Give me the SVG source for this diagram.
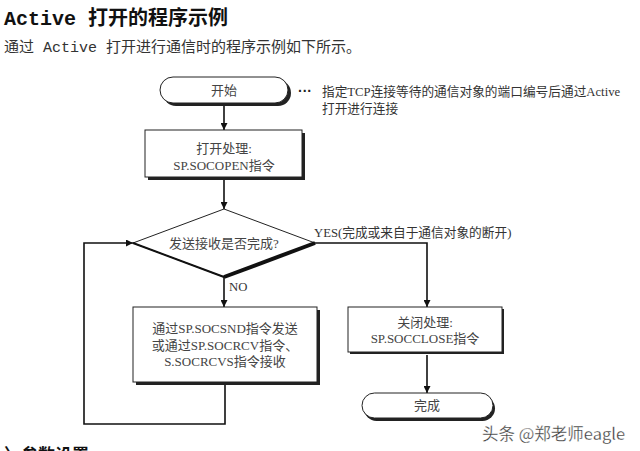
<svg xmlns="http://www.w3.org/2000/svg" width="640" height="451" viewBox="0 0 640 451">
<style>
.t{font-family:"Liberation Serif","Noto Sans CJK SC",serif;font-size:13px;fill:#444;text-anchor:middle}
.n{font-family:"Liberation Serif","Noto Sans CJK SC",serif;font-size:12.7px;fill:#333}
.box{fill:#fff;stroke:#222;stroke-width:1}
.sh{fill:#222}
.ln{fill:none;stroke:#111;stroke-width:1.6}
</style>
<defs>
<marker id="ah" viewBox="0 0 10 10" refX="10" refY="5" markerWidth="7" markerHeight="7" markerUnits="userSpaceOnUse" orient="auto"><path d="M0,0 L10,5 L0,10 z" fill="#111"/></marker>
</defs>
<rect width="640" height="451" fill="#fff"/>
<text x="4" y="25" font-family="Liberation Mono,'Noto Sans CJK SC',monospace" font-size="20" font-weight="bold" fill="#111">Active 打开的程序示例</text>
<text x="4" y="52" font-family="Liberation Mono,'Noto Sans CJK SC',monospace" font-size="15" fill="#333">通过 Active 打开进行通信时的程序示例如下所示。</text>
<text x="4" y="461" font-family="'Noto Sans CJK SC',sans-serif" font-size="17" font-weight="bold" fill="#111">〉参数设置</text>

<g id="connectors">
<line class="ln" x1="224" y1="105" x2="224" y2="130" marker-end="url(#ah)"/>
<line class="ln" x1="224" y1="180" x2="224" y2="209" marker-end="url(#ah)"/>
<line class="ln" x1="224" y1="277" x2="224" y2="307" marker-end="url(#ah)"/>
<polyline class="ln" points="315,243 427,243 427,307" marker-end="url(#ah)"/>
<line class="ln" x1="427" y1="355" x2="427" y2="393" marker-end="url(#ah)"/>
<polyline class="ln" points="225,385 225,424 84,424 84,243 133,243" marker-end="url(#ah)"/>
</g>

<g id="start">
<rect class="sh" x="163" y="80" width="128" height="26" rx="13"/>
<rect class="box" x="160" y="77" width="128" height="26" rx="13"/>
<text class="t" x="224" y="95">开始</text>
</g>
<g id="note">
<text x="298" y="96" font-family="'Liberation Sans',sans-serif" font-size="14" font-weight="bold" fill="#222">···</text>
<text class="n" x="322" y="96">指定TCP连接等待的通信对象的端口编号后通过Active</text>
<text class="n" x="322" y="113">打开进行连接</text>
</g>
<g id="open">
<rect class="sh" x="148" y="133" width="157" height="47"/>
<rect class="box" x="145" y="130" width="157" height="47"/>
<text class="t" x="224" y="153">打开处理:</text>
<text class="t" x="224" y="170">SP.SOCOPEN指令</text>
</g>
<g id="decision">
<polygon class="box" points="224,209 315,243 224,277 133,243"/>
<line x1="224" y1="277" x2="315" y2="243" stroke="#111" stroke-width="4"/>
<line x1="133" y1="243" x2="224" y2="277" stroke="#111" stroke-width="2"/>
<text class="t" x="224" y="248">发送接收是否完成?</text>
<text class="n" x="229" y="291">NO</text>
<text class="n" x="314" y="237">YES(完成或来自于通信对象的断开)</text>
</g>
<g id="sendrecv">
<rect class="sh" x="136" y="310" width="184" height="75"/>
<rect class="box" x="133" y="307" width="184" height="75"/>
<text class="t" x="225" y="333">通过SP.SOCSND指令发送</text>
<text class="t" x="225" y="350">或通过SP.SOCRCV指令、</text>
<text class="t" x="225" y="366">S.SOCRCVS指令接收</text>
</g>
<g id="close">
<rect class="sh" x="350" y="309" width="154" height="45"/>
<rect class="box" x="348" y="307" width="154" height="45"/>
<text class="t" x="425" y="327">关闭处理:</text>
<text class="t" x="425" y="343">SP.SOCCLOSE指令</text>
</g>
<g id="done">
<rect class="sh" x="364" y="396" width="131" height="25" rx="12.5"/>
<rect class="box" x="362" y="393" width="131" height="25" rx="12.5"/>
<text class="t" x="427" y="410">完成</text>
</g>
<text x="482" y="440" font-family="'Noto Sans CJK SC',sans-serif" font-size="16.5" fill="#333" stroke="#fff" stroke-width="0.3">头条 @郑老师eagle</text>
</svg>
